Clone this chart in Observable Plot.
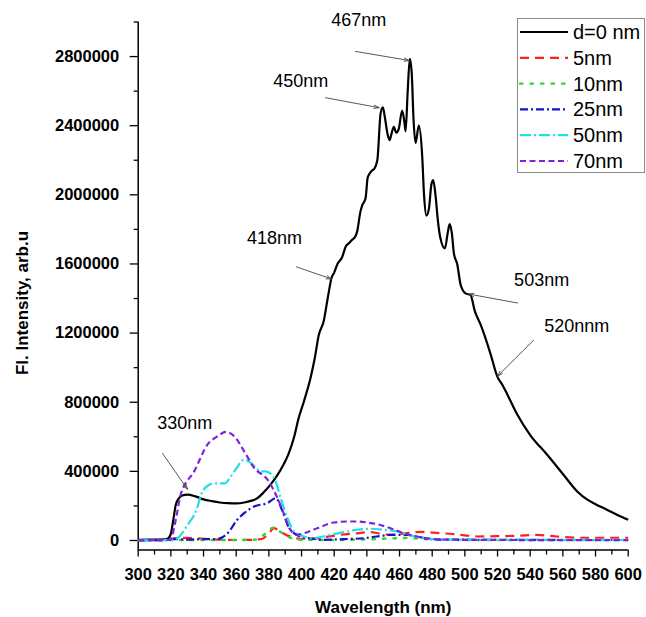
<!DOCTYPE html>
<html><head><meta charset="utf-8">
<script src="https://cdn.jsdelivr.net/npm/d3@7"></script>
<script src="https://cdn.jsdelivr.net/npm/@observablehq/plot@0.6"></script>
<style>
body{margin:0;background:#fff;}
#wrap{position:relative;width:646px;height:617px;font-family:'Liberation Sans',Arial,sans-serif;}
#wrap svg.plot{position:absolute;left:0;top:0;}
g[aria-label="x-axis tick label"], g[aria-label="y-axis tick label"]{font-weight:bold;font-size:16.5px;}
#legend{position:absolute;left:517px;top:18px;width:128px;height:155px;border:1px solid #8a8a8a;background:#fff;box-sizing:border-box;}
</style></head>
<body><div id="wrap"><div id="legend"></div></div>
<script>
// Series names, colours and dash styles
const seriesNames = ["d=0 nm","5nm","10nm","25nm","50nm","70nm"];
const seriesColors = ["#000000","#ff1f1f","#2ed62e","#1414c8","#1fe0e6","#7f22e0"];
const seriesDash = ["none","9,6","2.5,8","8,3,2,3","11,3,2,3","6,3.5"];
const seriesWidth = [2.2,2.2,2.4,2.2,2.2,2.2];

// d = 0 nm (black)
const wl0 = [300,310,316,318,320,322,323,325,327,330,335,340,345,350,355,360,365,370,373,377,381,385,389,392,395.5,398,401.5,405.5,408,410.6,413.6,416,418.4,420,422,424.9,427,429,431,433,434.1,436,437.2,439.2,440.5,441.5,443,444.5,446.4,448.4,449.8,451,452.5,453.9,455,456.5,458,459.5,461.6,463,463.7,465,466.3,467.5,468.5,469.8,471.8,473.9,475,476.5,478,479.5,480.6,482,483.5,485,487.8,489.5,490.7,492,493.3,495.3,497.4,500.4,503.5,506,509.6,515.7,519.8,523,526,532,540,550,560,568.8,575,580,587,594,600];
const d0 = [4000,5000,6000,10000,40000,150000,207000,245000,260000,265000,255000,238000,228000,220000,216000,215000,220000,232000,245000,280000,323000,375000,440000,500000,600000,700000,806000,940000,1050000,1190000,1270000,1400000,1520000,1550000,1600000,1640000,1700000,1720000,1740000,1760000,1790000,1900000,1940000,1980000,2100000,2120000,2140000,2150000,2200000,2470000,2506000,2450000,2360000,2317000,2350000,2394000,2360000,2380000,2487000,2420000,2367000,2600000,2787000,2700000,2450000,2300000,2400000,2220000,2000000,1880000,1920000,2060000,2085000,2000000,1850000,1750000,1690000,1780000,1830000,1780000,1660000,1600000,1480000,1430000,1420000,1330000,1250000,1080000,950000,900000,845000,730000,610000,500000,385000,284000,236000,210000,178000,145000,120000];

// 5 nm (red)
const wl5 = [300,318,322,330,340,350,360,370,376,380,383,386,390,394,400,410,418,424,432,442,448,454,462,469,475,481,493,500,508,520,532,544,556,570,582,592,600];
const d5 = [2000,3000,12000,15000,10000,5000,3000,4000,10000,40000,71000,60000,35000,20000,10000,12000,25000,33000,40000,48000,40000,33000,40000,48000,50000,45000,37000,30000,23000,25000,27000,32000,23000,16000,16000,16000,16000];

// 10 nm (green)
const wl10 = [300,320,340,360,372,376.5,383,387,392,398,420,440,455,465,475,490,520,560,600];
const d10 = [1000,3000,3000,3000,5000,30000,75000,50000,20000,5000,3000,6000,12000,15000,8000,4000,2000,2000,2000];

// 25 nm (blue)
const wl25 = [300,318,322,330,340,348,351.6,355.7,359.8,364.9,371,379,384.3,388.4,392.5,399.4,405.5,413.7,426,438,446,454.5,464.7,470.8,479,490,520,560,600];
const d25 = [1000,2000,8000,5000,8000,8000,19000,52000,110000,158000,197000,216000,245000,168000,71000,23000,12000,4000,8000,13000,23000,33000,33000,23000,8000,5000,4000,3000,3000];

// 50 nm (cyan)
const wl50 = [300,318,322,324,330.2,335.3,339.4,343,346.5,352.7,358.8,364.9,370,375,378,383.3,387.3,391.4,395.5,401.6,405.5,412,417.8,425.9,434.1,442.3,450.4,458.6,466.7,474.9,485,520,600];
const d50 = [1000,2000,5000,13000,90000,168000,284000,320000,330000,330000,400000,468000,440000,400000,400000,360000,245000,129000,52000,23000,13000,20000,33000,48000,62000,68000,62000,52000,29000,13000,6000,4000,3000];

// 70 nm (purple)
const wl70 = [300,318,320,323,326,334.3,342.4,348.6,353.7,358.8,364.9,371,379.2,385.3,389.4,392.5,397.5,401.4,409.6,419.8,428,434.1,440.2,446.4,454.5,462.6,470.8,479,490,520,600];
const d70 = [1000,3000,10000,120000,265000,400000,555000,603000,628000,603000,516000,420000,352000,245000,149000,71000,33000,42000,71000,104000,110000,110000,104000,94000,71000,42000,23000,10000,5000,3000,2000];

const seriesWl = [wl0,wl5,wl10,wl25,wl50,wl70];
const seriesVal = [d0,d5,d10,d25,d50,d70];

// Axis ticks
const xMajor = [300,320,340,360,380,400,420,440,460,480,500,520,540,560,580,600];
const xMinor = [310,330,350,370,390,410,430,450,470,490,510,530,550,570,590];
const yMajor = [0,400000,800000,1200000,1600000,2000000,2400000,2800000];
const yMinor = [200000,600000,1000000,1400000,1800000,2200000,2600000,3000000];

// Annotations
const annLabels = ["467nm","450nm","418nm","503nm","520nnm","330nm"];
const annTextX = [435,399.5,383.5,547,568.5,328.5];
const annTextY = [3010000,2660000,1750000,1505000,1240000,680000];
const arrX1 = [433,414.7,396.9,532.3,542.1,314.9];
const arrY1 = [2830000,2562000,1583000,1374000,1159000,504000];
const arrX2 = [466,447.5,418.4,502.3,520,330.2];
const arrY2 = [2777000,2504000,1513000,1426000,951000,296000];

const ann = annLabels.map((t,i)=>({t, x:annTextX[i], y:annTextY[i], x1:arrX1[i], y1:arrY1[i], x2:arrX2[i], y2:arrY2[i]}));

const lineMarks = seriesNames.map((name,i)=>{
  const rows = seriesWl[i].map((w,j)=>({wl:w, v:seriesVal[i][j]}));
  return Plot.line(rows, {x:"wl", y:"v", stroke:seriesColors[i], strokeWidth:seriesWidth[i],
    strokeDasharray: seriesDash[i]==="none"?undefined:seriesDash[i], strokeLinecap: i===2?"round":"butt", curve:"monotone-x"});
});

const chart = Plot.plot({
  width:646, height:617,
  marginLeft:137.7, marginRight:18.3, marginTop:21.5, marginBottom:67.5,
  x:{domain:[300,600]},
  y:{domain:[-55000,3000000]},
  style:{fontFamily:"'Liberation Sans', Arial, sans-serif", background:"transparent", overflow:"visible", color:"#000"},
  marks:[
    Plot.axisY(yMajor, {tickSize:8, tickPadding:11, tickFormat:d=>String(d), fontSize:16.5, fontWeight:"bold", label:null, strokeWidth:1.3}),
    Plot.axisY(yMinor, {tickSize:4, tickFormat:()=> "", label:null, strokeWidth:1.3}),
    Plot.axisX(xMajor, {tickSize:7, tickPadding:11, tickFormat:d=>String(d), fontSize:16.5, fontWeight:"bold", label:null, strokeWidth:1.3}),
    Plot.axisX(xMinor, {tickSize:5, tickFormat:()=> "", label:null, strokeWidth:1.3}),
    Plot.ruleX([300], {strokeWidth:1.5}),
    Plot.ruleY([-55000], {strokeWidth:1.5}),
    ...lineMarks,
    Plot.arrow(ann, {x1:"x1", y1:"y1", x2:"x2", y2:"y2", stroke:"#444", strokeWidth:0.9, headLength:9, headAngle:35}),
    Plot.text(ann, {x:"x", y:"y", text:"t", fontSize:18, fill:"#000"}),
    Plot.text(["Fl. Intensity, arb.u"], {frameAnchor:"left", textAnchor:"middle", lineAnchor:"middle", rotate:-90, dx:-115.7, dy:17, fontSize:17, fontWeight:"bold", fill:"#000"}),
    Plot.text(["Wavelength (nm)"], {frameAnchor:"bottom", textAnchor:"middle", lineAnchor:"middle", dy:57.5, fontSize:17, fontWeight:"bold", fill:"#000"})
  ]
});
chart.classList.add("plot");
const wrap = document.getElementById("wrap");
wrap.insertBefore(chart, wrap.firstChild);

// Legend
const lg = d3.select("#legend").append("svg").attr("width",126).attr("height",153).style("display","block");
seriesNames.forEach((name,i)=>{
  const y = 13 + i*25.8;
  lg.append("line").attr("x1",2).attr("x2",50).attr("y1",y).attr("y2",y)
    .attr("stroke",seriesColors[i]).attr("stroke-width",seriesWidth[i])
    .attr("stroke-dasharray",seriesDash[i]==="none"?null:seriesDash[i])
    .attr("stroke-linecap", i===2?"round":"butt");
  lg.append("text").attr("x",55).attr("y",y).attr("dy","0.35em")
    .attr("font-size",20).attr("font-family","'Liberation Sans', Arial, sans-serif").text(name);
});
</script></body></html>
